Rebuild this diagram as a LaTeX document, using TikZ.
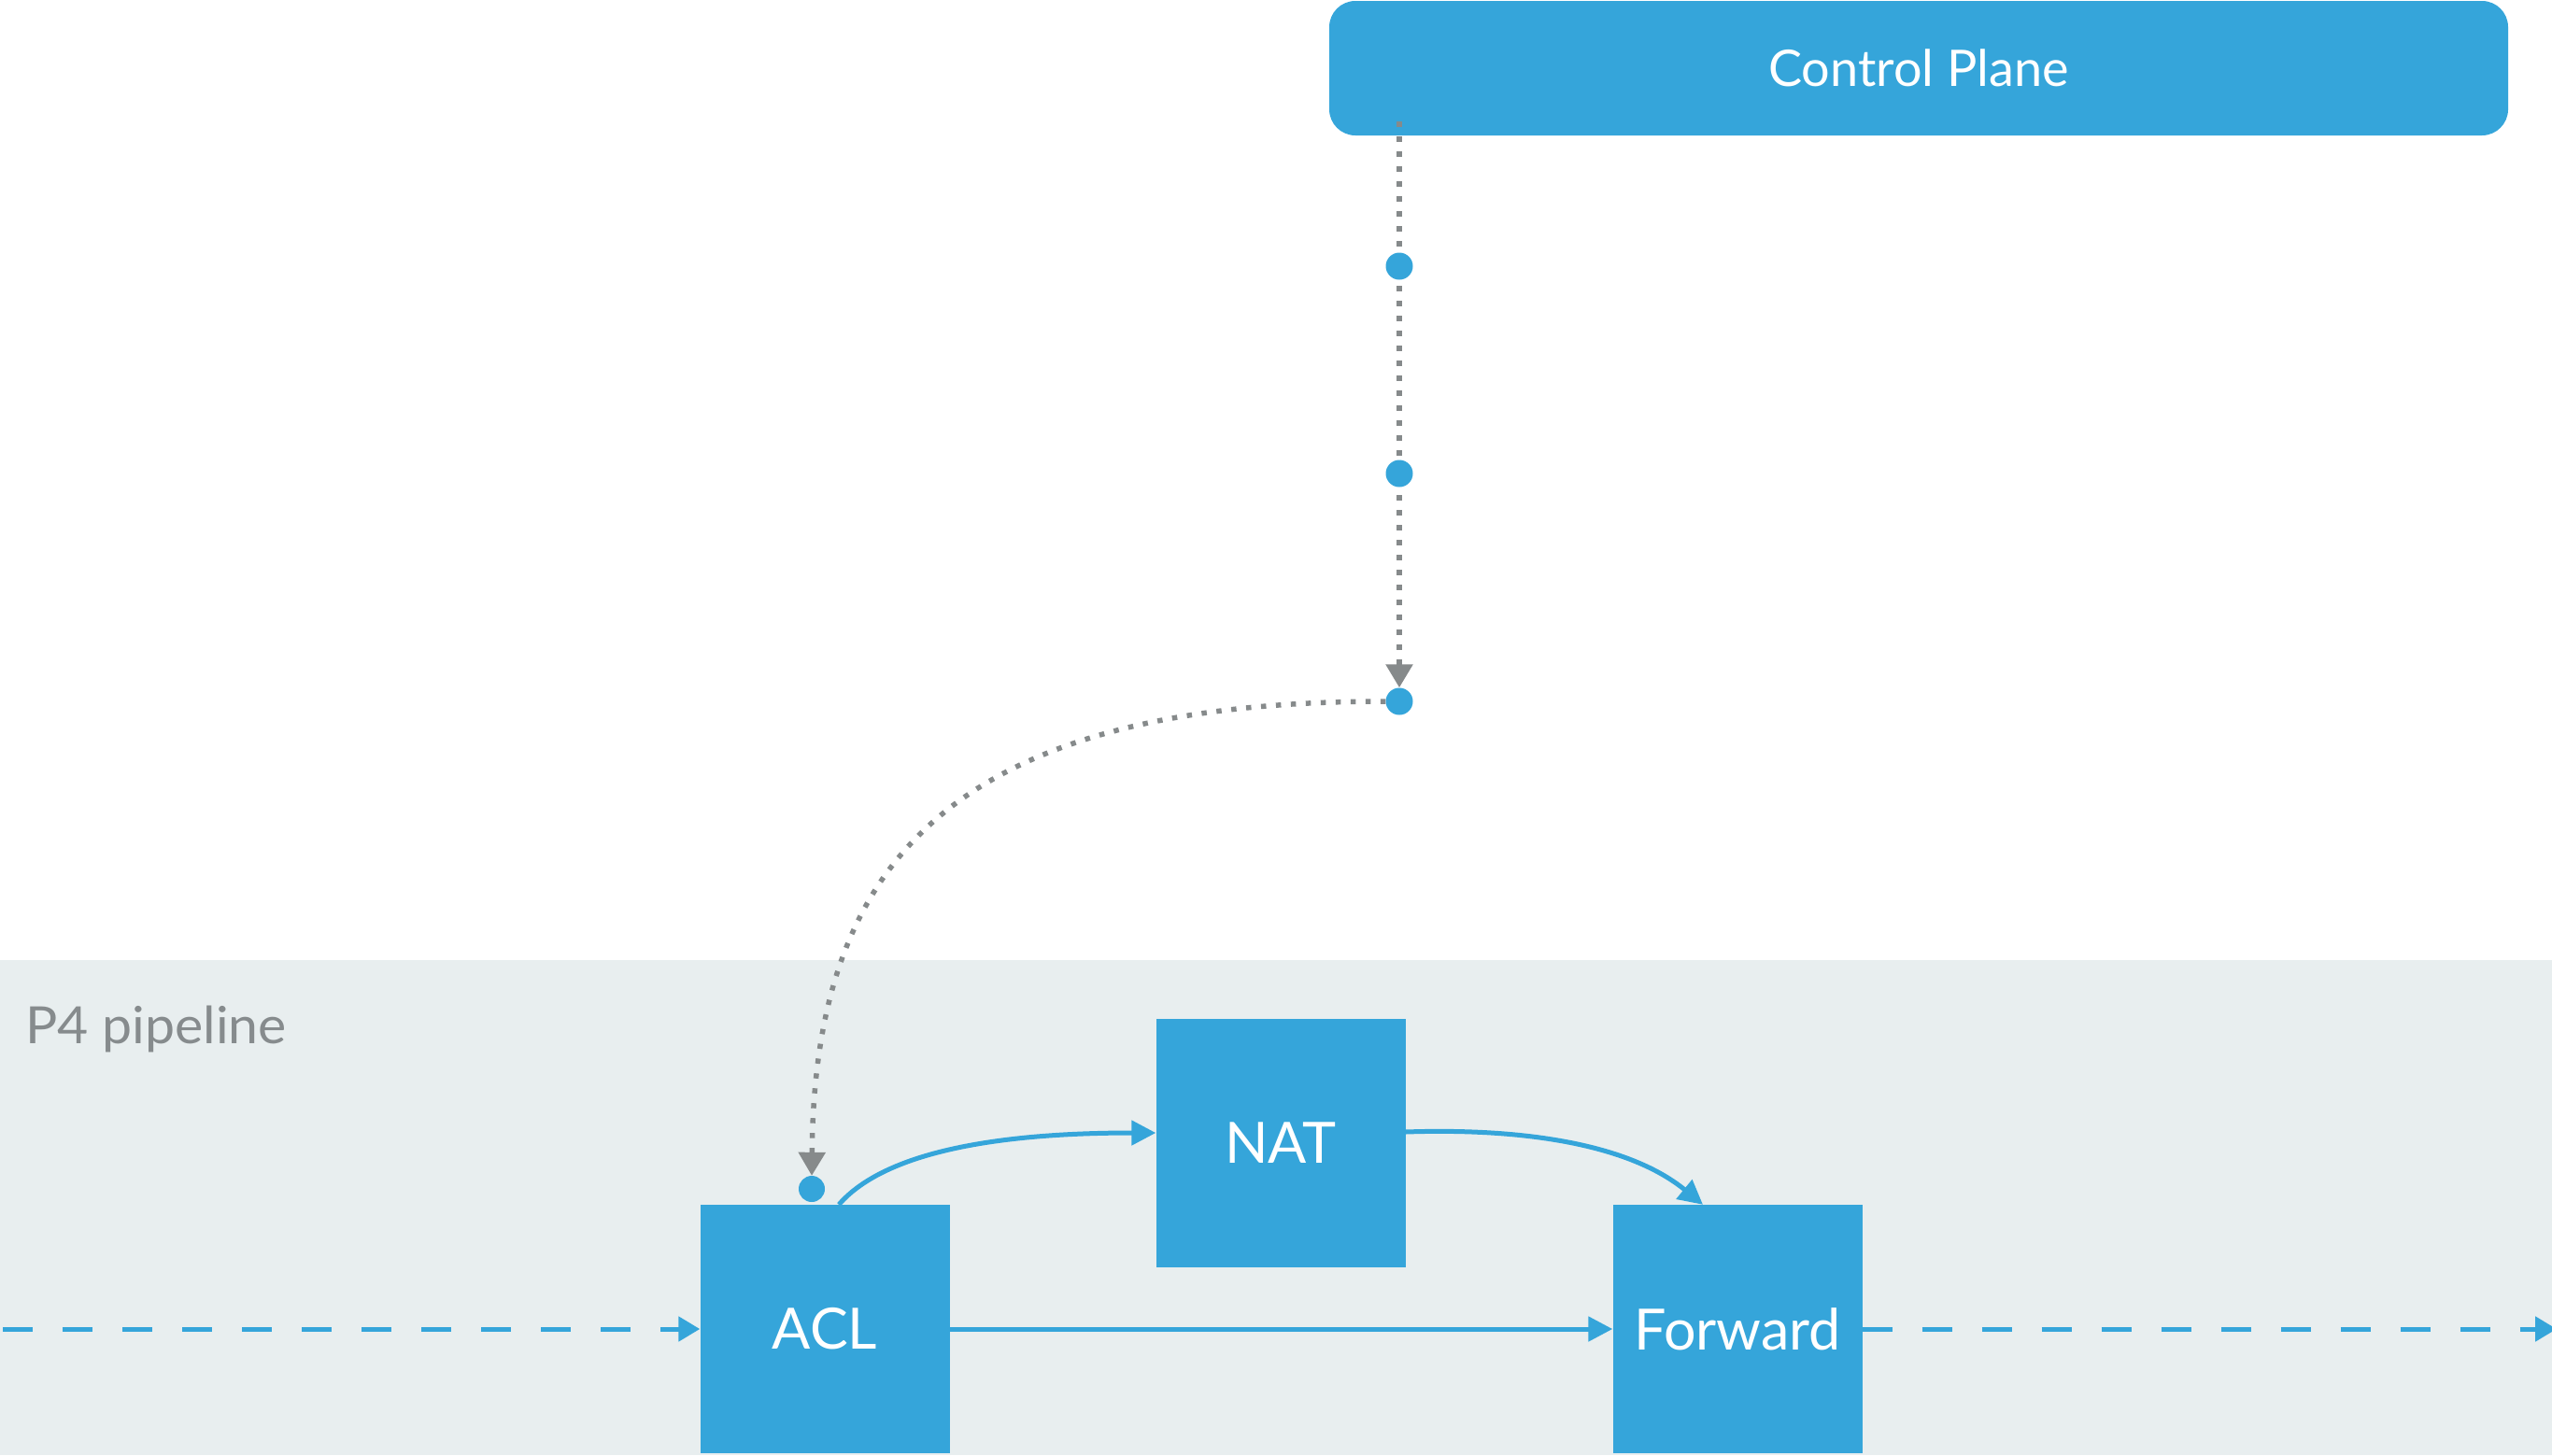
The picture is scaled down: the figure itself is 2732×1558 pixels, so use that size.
\documentclass[tikz,border=0pt]{standalone}
\usepackage{fontspec}
\setmainfont{Lato}
\usetikzlibrary{arrows.meta}
\definecolor{pblue}{HTML}{35A5DA}
\definecolor{band}{HTML}{E8EEEF}
\definecolor{dgray}{HTML}{868A8B}
\definecolor{tgray}{HTML}{868B8D}
\pgfdeclarelayer{back}
\pgfdeclarelayer{mid}
\pgfsetlayers{back,mid,main}
\tikzset{
  blockbox/.style={fill=pblue, draw=none, minimum width=267pt, minimum height=266pt, inner sep=0pt, text=white, font=\fontsize{61}{70}\selectfont},
  cpbox/.style={fill=pblue, draw=none, rounded corners=28pt, minimum width=1262pt, minimum height=144pt, inner sep=0pt, text=white, font=\fontsize{54}{62}\selectfont},
  dotnode/.style={circle, fill=pblue, draw=none, minimum size=29pt, inner sep=0pt},
  gdot/.style={draw=dgray, line width=5.5pt, dash pattern=on 5.5pt off 10.5pt},
  gtip/.style={-{Triangle[length=25pt,width=28pt]}},
  bline/.style={draw=pblue, line width=5pt, -{Triangle[length=26pt,width=26pt]}},
  bdash/.style={draw=pblue, line width=5pt, dash pattern=on 32pt off 32pt, -{Triangle[length=23pt,width=26pt]}},
}
\begin{document}
\begin{tikzpicture}[x=1pt,y=-1pt]
\useasboundingbox (0,0) rectangle (2732,1558);
\begin{pgfonlayer}{back}
  \fill[white] (0,0) rectangle (2732,1558);
  \fill[band] (0,1028) rectangle (2732,1558);
\end{pgfonlayer}
\node[anchor=base west, inner sep=0pt, text=tgray, font=\fontsize{55}{62}\selectfont, xscale=1.04] (p4) at (27,1117) {P4 pipeline};
\node[cpbox] (cp) at (2054,73) {Control Plane};
\node[blockbox] (acl) at (883,1423) {ACL};
\node[blockbox] (nat) at (1371,1224) {NAT};
\node[blockbox] (fwd) at (1860,1423) {Forward};
\node[dotnode] (d1) at (1498,285) {};
\node[dotnode] (d2) at (1498,507) {};
\node[dotnode] (d3) at (1498,751) {};
\node[dotnode, minimum size=28pt] (d4) at (869,1273) {};
\coordinate (cs) at (1498,130);
\coordinate (lin) at (3,1423);
\coordinate (rout) at (2737,1423);
\begin{pgfonlayer}{mid}
  \draw[gdot, gtip] (cs) -- (d3.north);
  \draw[gdot, gtip] (d3.west) .. controls (1000,751) and (872,940) .. (d4.north);
\end{pgfonlayer}
\draw[gdot] (cs) -- (cp.south -| cs);
\draw[bdash] (lin) -- (acl.west);
\draw[bdash] (fwd.east) -- (rout);
\draw[bline] (acl.east) -- (fwd.west);
\draw[bline] ([xshift=15pt]acl.north) .. controls (950,1230) and (1080,1213) .. ([yshift=11pt]nat.west);
\draw[bline] ([yshift=12pt]nat.east) .. controls (1620,1208) and (1740,1222) .. ([xshift=-37pt]fwd.north);
\end{tikzpicture}
\end{document}
